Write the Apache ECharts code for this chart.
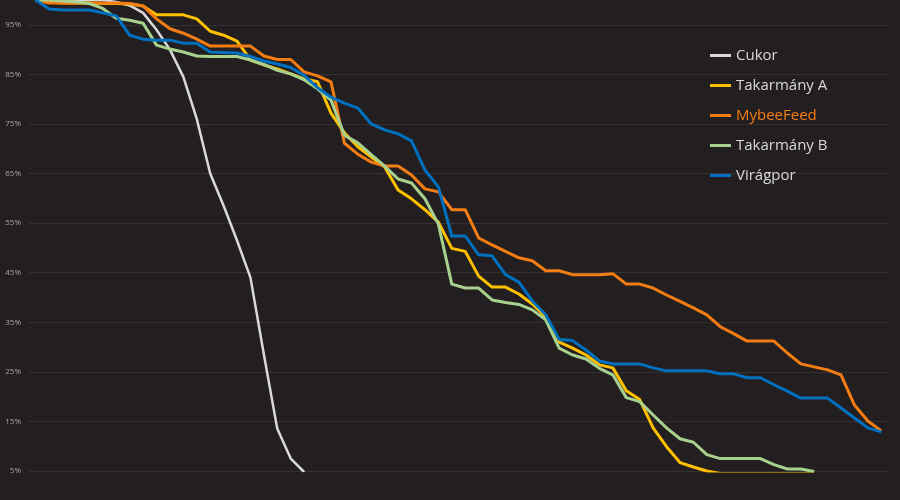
<!DOCTYPE html>
<html>
<head>
<meta charset="utf-8">
<script src="https://cdn.jsdelivr.net/npm/echarts@6/dist/echarts.min.js"></script>
<style>
html,body{margin:0;padding:0;background:#231f20;}
#chart{width:900px;height:500px;}
</style>
</head>
<body>
<div id="chart"></div>
<script>
// 64 observation points (x axis has no labels in the reference)
const categories = Array.from({length: 64}, (_, i) => String(i + 1));

const seriesNames = ['Cukor', 'Takarmány A', 'MybeeFeed', 'Takarmány B', 'Virágpor'];

const cukor = [100, 100, 100, 100, 100, 100, 99.6, 98.9, 97.4, 94.0,
  90.0, 84.5, 76.0, 65.0, 58.5, 51.5, 44.0, 28.5, 13.5, 7.5,
  4.8];

const takarmanyA = [100, 99.6, 99.4, 99.4, 99.4, 99.3, 99.3, 99.2, 98.8, 97.0,
  97.0, 97.0, 96.2, 93.7, 92.9, 91.7, 87.9, 86.9, 86.1, 85.1,
  84.1, 83.5, 77.2, 73.2, 70.4, 68.3, 66.3, 61.7, 59.9, 57.7,
  55.2, 49.9, 49.3, 44.3, 42.1, 42.1, 40.7, 38.7, 36.1, 31.0,
  29.8, 28.4, 26.4, 25.8, 21.2, 19.4, 13.7, 9.9, 6.7, 5.8,
  5.0, 4.5, 4.5, 4.5, 4.5, 4.5, 4.5, 4.5, 4.5];

const mybeeFeed = [100, 99.4, 99.4, 99.4, 99.4, 99.4, 99.4, 99.3, 98.8, 96.2,
  94.2, 93.3, 92.1, 90.7, 90.7, 90.7, 90.7, 88.7, 88.0, 88.0,
  85.5, 84.7, 83.5, 71.1, 68.9, 67.3, 66.5, 66.5, 64.7, 61.9,
  61.3, 57.7, 57.7, 52.0, 50.6, 49.3, 48.0, 47.4, 45.4, 45.4,
  44.6, 44.6, 44.6, 44.8, 42.7, 42.7, 41.9, 40.5, 39.2, 37.9,
  36.5, 34.1, 32.7, 31.2, 31.2, 31.2, 28.8, 26.6, 26.0, 25.4,
  24.4, 18.3, 15.1, 13.1];

const takarmanyB = [100, 100, 99.8, 99.6, 99.3, 98.3, 96.3, 95.9, 95.3, 90.9,
  90.1, 89.5, 88.7, 88.6, 88.6, 88.6, 87.9, 87.0, 85.8, 85.1,
  83.9, 82.1, 79.8, 72.7, 71.2, 68.8, 66.5, 63.9, 63.1, 59.9,
  54.8, 42.7, 41.9, 41.9, 39.5, 39.0, 38.6, 37.5, 35.5, 29.8,
  28.4, 27.6, 25.7, 24.4, 19.8, 19.0, 16.3, 13.7, 11.5, 10.8,
  8.3, 7.5, 7.5, 7.5, 7.5, 6.3, 5.4, 5.4, 4.9];

const viragpor = [100, 98.2, 98.0, 98.0, 98.0, 97.4, 96.8, 92.9, 92.1, 91.9,
  91.9, 91.3, 91.3, 89.5, 89.4, 89.3, 88.6, 87.7, 87.1, 86.4,
  84.8, 82.3, 80.4, 79.2, 78.2, 75.0, 73.8, 73.0, 71.6, 65.7,
  62.3, 52.4, 52.4, 48.6, 48.4, 44.6, 43.1, 39.3, 36.5, 31.5,
  31.3, 29.4, 27.2, 26.6, 26.6, 26.6, 25.8, 25.2, 25.2, 25.2,
  25.2, 24.6, 24.6, 23.8, 23.8, 22.4, 21.1, 19.7, 19.7, 19.7,
  17.7, 15.7, 13.7, 12.9];

const seriesData = [cukor, takarmanyA, mybeeFeed, takarmanyB, viragpor];
const colors = ['#d9d9d9', '#ffc000', '#f47d13', '#a9d18e', '#0070c0'];
const widths = [2.5, 3, 3, 3, 3];

const chart = echarts.init(document.getElementById('chart'), null, {renderer: 'canvas'});

chart.setOption({
  backgroundColor: '#231f20',
  animation: false,
  grid: {left: 29, right: 12, top: 0, bottom: 29, containLabel: false},
  legend: {
    orient: 'vertical',
    left: 705,
    top: 41,
    icon: 'rect',
    itemWidth: 21,
    itemHeight: 3,
    itemGap: 11,
    textStyle: {color: '#d9d9d9', fontSize: 15, fontFamily: 'Open Sans', lineHeight: 19},
    data: seriesNames.map((n, i) => i === 2
      ? {name: n, textStyle: {color: colors[2]}}
      : {name: n})
  },
  xAxis: {
    type: 'category',
    data: categories,
    boundaryGap: true,
    axisLine: {show: false},
    axisTick: {show: false},
    axisLabel: {show: false},
    splitLine: {show: false}
  },
  yAxis: {
    type: 'value',
    min: 5,
    max: 100,
    interval: 5,
    axisLine: {show: false},
    axisTick: {show: false},
    axisLabel: {
      color: '#a6a6a6',
      fontSize: 8,
      fontFamily: 'Open Sans',
      margin: 8,
      formatter: v => (Math.round(v) % 10 === 5 ? Math.round(v) + '%' : '')
    },
    splitLine: {show: true, lineStyle: {color: ['#353132', 'rgba(0,0,0,0)'], width: 1}}
  },
  series: seriesNames.map((n, i) => ({
    name: n,
    type: 'line',
    data: seriesData[i],
    symbol: 'none',
    smooth: false,
    clip: true,
    lineStyle: {color: colors[i], width: widths[i], join: 'round'},
    itemStyle: {color: colors[i]}
  }))
});
</script>
</body>
</html>
